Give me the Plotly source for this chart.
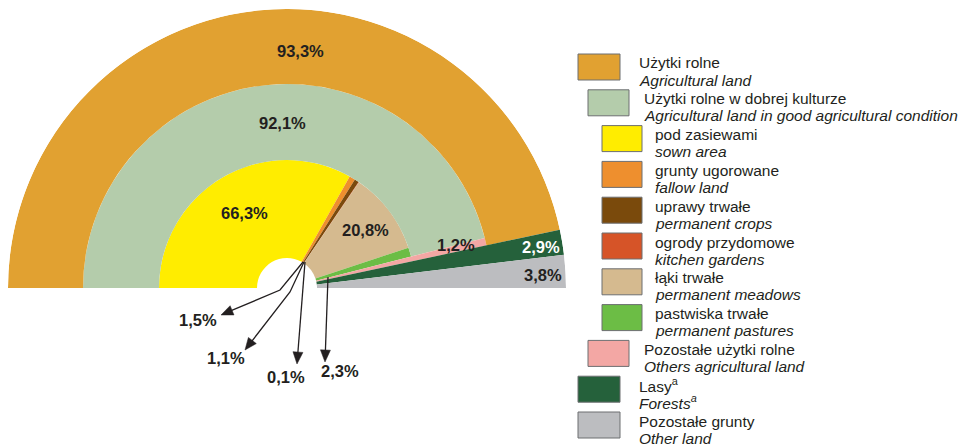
import plotly.graph_objects as go

# page body has an 8px margin: the figure is sized to fit the 967x444 window
OFF = 8
W, H = 967 - OFF, 444 - OFF

# ---------------- data ----------------
# inner ring: components of "Użytki rolne w dobrej kulturze"
inner_pl = ["pod zasiewami", "grunty ugorowane", "uprawy trwałe",
            "ogrody przydomowe", "łąki trwałe", "pastwiska trwałe"]
inner_en = ["sown area", "fallow land", "permanent crops",
            "kitchen gardens", "permanent meadows", "permanent pastures"]
inner_values = [66.3, 1.5, 1.1, 0.1, 20.8, 2.3]
inner_colors = ["#FFED00", "#EE8F2E", "#7A4A0C", "#D65428", "#D5BA8F", "#6CBD45"]

# middle ring
good_pl, good_en, good_value, good_color = ("Użytki rolne w dobrej kulturze",
                                            "Agricultural land in good agricultural condition",
                                            92.1, "#B4CCAB")
other_agri_pl, other_agri_en, other_agri_value, other_agri_color = ("Pozostałe użytki rolne",
                                                                    "Others agricultural land",
                                                                    1.2, "#F3A7A4")
# outer ring
agri_pl, agri_en, agri_value, agri_color = ("Użytki rolne", "Agricultural land", 93.3, "#E1A131")
forest_pl, forest_en, forest_value, forest_color = ("Lasy<sup>a</sup>", "Forests<sup>a</sup>", 2.9, "#25613B")
other_pl, other_en, other_value, other_color = ("Pozostałe grunty", "Other land", 3.8, "#BCBDC0")

# ---------------- geometry (style) ----------------
R_HOLE, R_IN, R_MID, R_OUT = 30, 128, 204, 279
DEG = 180.0 / 100.0  # half circle = 100 %

r_vals, base_vals, theta_vals, width_vals, colors = [], [], [], [], []


def add(start, value, r0, r1, color):
    r_vals.append(r1 - r0)
    base_vals.append(r0)
    theta_vals.append((start + value / 2) * DEG)
    width_vals.append(value * DEG)
    colors.append(color)


cum = 0.0
for v, c in zip(inner_values, inner_colors):
    add(cum, v, R_HOLE, R_IN, c)
    cum += v
add(0, good_value, R_IN, R_MID, good_color)
add(good_value, other_agri_value, R_HOLE, R_MID, other_agri_color)
add(0, agri_value, R_MID, R_OUT, agri_color)
add(agri_value, forest_value, R_HOLE, R_OUT, forest_color)
add(agri_value + forest_value, other_value, R_HOLE, R_OUT, other_color)

fig = go.Figure()
fig.add_trace(go.Barpolar(
    r=r_vals, base=base_vals, theta=theta_vals, width=width_vals,
    marker=dict(color=colors, line=dict(width=0)),
    hoverinfo="skip", showlegend=False,
))


def P(x, y):
    """window pixel -> paper coords"""
    return (x - OFF) / W, 1 - (y - OFF) / H


def fmt(v):
    return f"{v:.1f}".replace(".", ",") + "%"


FONT = "Liberation Sans, Arial, sans-serif"
DARK = "#231F20"
annotations = []
shapes = []


def label(x, y, text, color=DARK, size=16.5, bold=True):
    px, py = P(x, y)
    annotations.append(dict(x=px, y=py, xref="paper", yref="paper", showarrow=False,
                            text=f"<b>{text}</b>" if bold else text,
                            font=dict(family=FONT, size=size, color=color),
                            xanchor="center", yanchor="middle"))


# value labels
label(300, 51, fmt(agri_value))
label(282, 123, fmt(good_value))
label(244, 213, fmt(inner_values[0]))
label(365, 230, fmt(inner_values[4]))
label(456, 245, fmt(other_agri_value))
label(541, 247, fmt(forest_value), color="white")
label(543, 275, fmt(other_value))
label(198, 320, fmt(inner_values[1]))
label(226, 358, fmt(inner_values[2]))
label(286, 377, fmt(inner_values[3]))
label(340, 371, fmt(inner_values[5]))

# leader arrows (window pixel coords)
arrows = [
    [(303, 262), (280, 290), (221, 315)],
    [(304, 262), (290, 292), (245, 350)],
    [(305, 262), (297, 364)],
    [(328, 277), (325, 362)],
]
HEAD_L, HEAD_W = 12, 5
for pts in arrows:
    (x1, y1), (x2, y2) = pts[-2], pts[-1]
    dx, dy = x2 - x1, y2 - y1
    L = (dx * dx + dy * dy) ** 0.5
    ux, uy = dx / L, dy / L
    bx, by = x2 - ux * HEAD_L, y2 - uy * HEAD_L
    line_pts = pts[:-1] + [(bx + ux * 1, by + uy * 1)]
    path = "M " + " L ".join("{:.5f} {:.5f}".format(*P(x, y)) for x, y in line_pts)
    shapes.append(dict(type="path", path=path, xref="paper", yref="paper",
                       line=dict(color=DARK, width=1.3)))
    nx, ny = -uy, ux
    tri = [(x2, y2), (bx + nx * HEAD_W, by + ny * HEAD_W), (bx - nx * HEAD_W, by - ny * HEAD_W)]
    tpath = "M " + " L ".join("{:.5f} {:.5f}".format(*P(x, y)) for x, y in tri) + " Z"
    shapes.append(dict(type="path", path=tpath, xref="paper", yref="paper",
                       fillcolor=DARK, line=dict(color=DARK, width=0.5)))

# ---------------- custom legend ----------------
legend_pl = [agri_pl, good_pl] + inner_pl + [other_agri_pl, forest_pl, other_pl]
legend_en = [agri_en, good_en] + inner_en + [other_agri_en, forest_en, other_en]
legend_colors = [agri_color, good_color] + inner_colors + [other_agri_color, forest_color, other_color]
legend_level = [0, 1, 2, 2, 2, 2, 2, 2, 1, 0, 0]

rect_x = {0: (578, 620), 1: (588, 629), 2: (602, 642)}
text_x = {0: 637, 1: 642, 2: 653}
for i, (pl, en, col, lev) in enumerate(zip(legend_pl, legend_en, legend_colors, legend_level)):
    top = 54 + i * 35.8
    x0, x1 = rect_x[lev]
    (px0, py0), (px1, py1) = P(x0, top), P(x1, top + 26)
    shapes.append(dict(type="rect", xref="paper", yref="paper", x0=px0, x1=px1, y0=py1, y1=py0,
                       fillcolor=col, line=dict(color="#6D6E71", width=1)))
    for txt, dy, it in ((pl, 9, False), (en, 26, True)):
        tx, ty = P(text_x[lev], top + dy)
        annotations.append(dict(x=tx, y=ty, xref="paper", yref="paper", showarrow=False,
                                text=f"<i>{txt}</i>" if it else txt,
                                font=dict(family=FONT, size=15.5, color=DARK),
                                xanchor="left", yanchor="middle"))

fig.update_layout(
    width=W, height=H,
    margin=dict(l=0, r=0, t=0, b=0),
    paper_bgcolor="white", plot_bgcolor="white",
    showlegend=False,
    polar=dict(
        domain=dict(x=[P(8, 0)[0], P(566, 0)[0]], y=[P(0, 288)[1], P(0, 9)[1]]),
        sector=[0, 180],
        bgcolor="rgba(0,0,0,0)",
        barmode="overlay",
        radialaxis=dict(range=[0, R_OUT], visible=False, showgrid=False, showline=False),
        angularaxis=dict(visible=False, direction="clockwise", rotation=180,
                         showgrid=False, showline=False),
    ),
    annotations=annotations,
    shapes=shapes,
)

fig.write_html("out.html")
